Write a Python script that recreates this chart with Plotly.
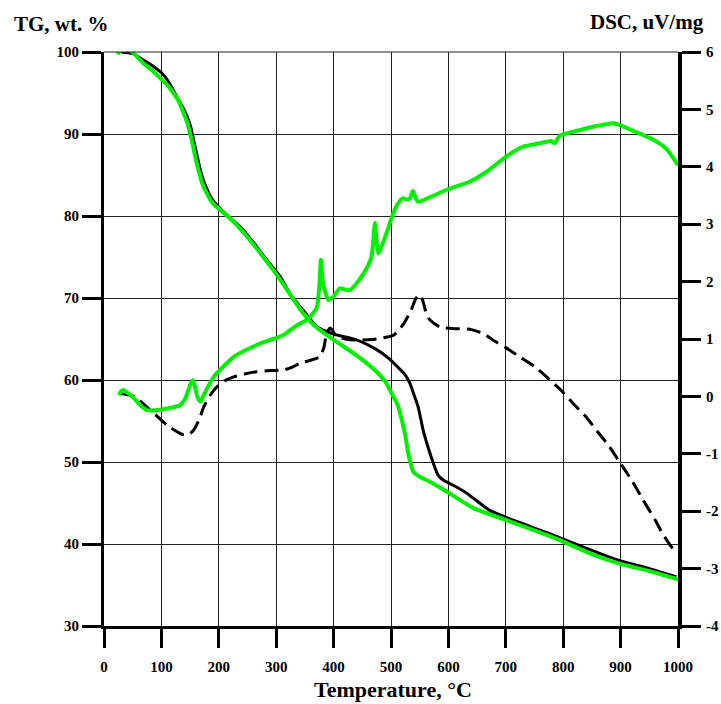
import plotly.graph_objects as go

# ---- TG curves (wt. %) ----
tg_black_t = [30, 50, 69, 85, 101, 115, 127, 137, 145, 151, 156, 162, 168, 174, 180, 188, 197, 214, 237,
              261, 284, 307, 324, 347, 371, 400, 440, 475, 495, 510, 525, 533, 539, 547, 556, 565, 574, 582,
              591, 610, 632, 672, 713, 771, 829, 893, 940, 997]
tg_black = [100, 99.8, 99.0, 98.3, 97.4, 96.1, 94.5, 93.3, 92.1, 90.9, 89.3, 87.4, 85.6, 84.2, 83.2, 82.1,
            81.3, 80.1, 78.7, 76.7, 74.6, 72.6, 70.5, 68.5, 66.5, 65.6, 64.9, 63.7, 62.7, 61.7, 60.6, 59.6,
            58.4, 56.8, 53.9, 51.7, 49.8, 48.4, 47.8, 47.1, 46.2, 44.1, 42.9, 41.4, 39.8, 38.1, 37.2, 36.0]

tg_green_t = [24, 28, 33, 40, 52, 69, 85, 98, 110, 121, 131, 139, 145, 150, 155, 159, 165, 171, 178, 185,
              193, 203, 226, 249, 272, 295, 319, 342, 360, 376, 400, 440, 475, 490, 504, 512, 519, 525, 530,
              535, 539, 550, 568, 597, 643, 701, 771, 800, 852, 898, 950, 1000]
tg_green = [99.7, 100.3, 100.7, 100.5, 99.8, 98.6, 97.7, 96.8, 96.0, 95.0, 93.9, 92.5, 91.4, 90.1, 88.6,
            87.2, 85.5, 84.0, 82.9, 82.0, 81.3, 80.7, 79.3, 77.5, 75.5, 73.4, 71.0, 68.6, 67.1, 66.1, 64.9,
            63.0, 61.0, 59.8, 58.0, 56.9, 55.1, 53.2, 51.1, 49.6, 48.8, 48.2, 47.6, 46.4, 44.4, 42.9, 41.1,
            40.3, 38.7, 37.6, 36.7, 35.7]

# ---- DSC curves (uV/mg) ----
dsc_black_t = [29, 52, 81, 110, 130, 139, 148, 156, 165, 174, 185, 197, 210, 226, 245, 266, 290, 313, 330,
               342, 360, 376, 383, 388, 394, 400, 405, 420, 440, 465, 487, 505, 521, 535, 543, 550, 556, 562,
               568, 585, 610, 637, 660, 678, 700, 724, 750, 771, 795, 817, 840, 858, 880, 898, 920, 939, 960,
               973, 987, 997]
dsc_black = [0.05, 0.0, -0.24, -0.50, -0.63, -0.67, -0.66, -0.59, -0.42, -0.18, 0.02, 0.17, 0.27, 0.34,
             0.39, 0.43, 0.45, 0.46, 0.52, 0.58, 0.63, 0.69, 0.85, 1.10, 1.19, 1.12, 1.04, 1.00, 0.98, 0.99,
             1.02, 1.07, 1.25, 1.50, 1.70, 1.77, 1.65, 1.42, 1.33, 1.21, 1.18, 1.17, 1.10, 0.98, 0.85, 0.69,
             0.52, 0.34, 0.12, -0.12, -0.36, -0.59, -0.87, -1.14, -1.47, -1.80, -2.15, -2.39, -2.60, -2.73]

dsc_green_t = [26, 30, 34, 40, 52, 63, 75, 90, 110, 125, 133, 141, 147, 151, 155, 159, 163, 168, 175, 191,
               208, 226, 250, 272, 295, 313, 324, 340, 353, 362, 371, 375, 378, 381, 386, 391, 400, 411, 428,
               440, 452, 460, 466, 469, 472, 475, 478, 485, 492, 504, 512, 521, 527, 533, 538, 542, 547, 568,
               597, 637, 666, 701, 730, 759, 779, 785, 794, 829, 858, 887, 898, 921, 957, 979, 1000]
dsc_green = [0.02, 0.09, 0.11, 0.07, -0.03, -0.15, -0.24, -0.24, -0.21, -0.18, -0.15, -0.05, 0.11, 0.22,
             0.28, 0.15, -0.02, -0.09, 0.05, 0.34, 0.52, 0.69, 0.82, 0.92, 1.00, 1.07, 1.15, 1.26, 1.33,
             1.42, 1.56, 1.90, 2.38, 2.00, 1.80, 1.68, 1.74, 1.88, 1.85, 1.97, 2.14, 2.28, 2.43, 2.70, 3.02,
             2.70, 2.49, 2.65, 2.84, 3.19, 3.36, 3.45, 3.43, 3.45, 3.58, 3.48, 3.39, 3.47, 3.60, 3.74, 3.91,
             4.18, 4.35, 4.41, 4.45, 4.41, 4.54, 4.64, 4.71, 4.76, 4.73, 4.63, 4.47, 4.32, 4.03]

x_ticks = list(range(0, 1001, 100))
tg_ticks = list(range(30, 101, 10))
dsc_ticks = list(range(-4, 7, 1))
dsc_tick_text = [str(v) for v in dsc_ticks]  # plain hyphen minus signs

GREEN = "#00f000"
FONT = "Liberation Serif"

fig = go.Figure()
fig.add_trace(go.Scatter(x=tg_black_t, y=tg_black, mode="lines",
                         line=dict(color="black", width=3, shape="spline", smoothing=0.6)))
fig.add_trace(go.Scatter(x=dsc_black_t, y=dsc_black, mode="lines", yaxis="y2",
                         line=dict(color="black", width=3, dash="14px,7px", shape="spline", smoothing=0.6)))
fig.add_trace(go.Scatter(x=tg_green_t, y=tg_green, mode="lines",
                         line=dict(color=GREEN, width=4, shape="spline", smoothing=0.6)))
fig.add_trace(go.Scatter(x=dsc_green_t, y=dsc_green, mode="lines", yaxis="y2",
                         line=dict(color=GREEN, width=4, shape="spline", smoothing=0.6)))

tickfont = dict(family=FONT, size=15, color="black", weight="bold")

fig.update_layout(
    width=721, height=704,
    margin=dict(l=104, r=43, t=52, b=78),
    paper_bgcolor="white", plot_bgcolor="white",
    showlegend=False,
    xaxis=dict(range=[0, 1000], tickvals=x_ticks, ticks="outside", ticklen=19, tickwidth=3,
               tickcolor="black", showline=True, linewidth=3, linecolor="black",
               showgrid=True, gridcolor="#222", gridwidth=1, zeroline=False, automargin=False,
               tickfont=tickfont, ticklabelstandoff=6),
    yaxis=dict(range=[30, 100], tickvals=tg_ticks, ticks="outside", ticklen=19, tickwidth=3,
               tickcolor="black", showline=True, linewidth=3, linecolor="black",
               showgrid=True, gridcolor="#222", gridwidth=1, zeroline=False, automargin=False,
               tickfont=tickfont, ticklabelstandoff=0),
    yaxis2=dict(range=[-4, 6], tickvals=dsc_ticks, ticktext=dsc_tick_text, overlaying="y", side="right",
                ticks="outside", ticklen=19, tickwidth=3, tickcolor="black", showline=True, linewidth=4,
                linecolor="black", showgrid=False, zeroline=False, automargin=False, tickfont=tickfont,
                ticklabelstandoff=2),
    shapes=[dict(type="line", xref="paper", yref="paper", x0=0, x1=1, y0=1, y1=1,
                 line=dict(color="#222", width=1))],
    annotations=[
        dict(text="<b>TG, wt. %</b>", xref="paper", yref="paper", x=-0.160, y=1.0, yshift=28,
             xanchor="left", yanchor="middle", showarrow=False,
             font=dict(family=FONT, size=21, color="black")),
        dict(text="<b>DSC, uV/mg</b>", xref="paper", yref="paper", x=1.0488, y=1.0, yshift=30,
             xanchor="right", yanchor="middle", showarrow=False,
             font=dict(family=FONT, size=21, color="black")),
        dict(text="<b>Temperature, °C</b>", xref="paper", yref="paper", x=0.503, y=0.0, yshift=-63,
             xanchor="center", yanchor="middle", showarrow=False,
             font=dict(family=FONT, size=22, color="black")),
    ],
)

fig.write_html("out.html")
